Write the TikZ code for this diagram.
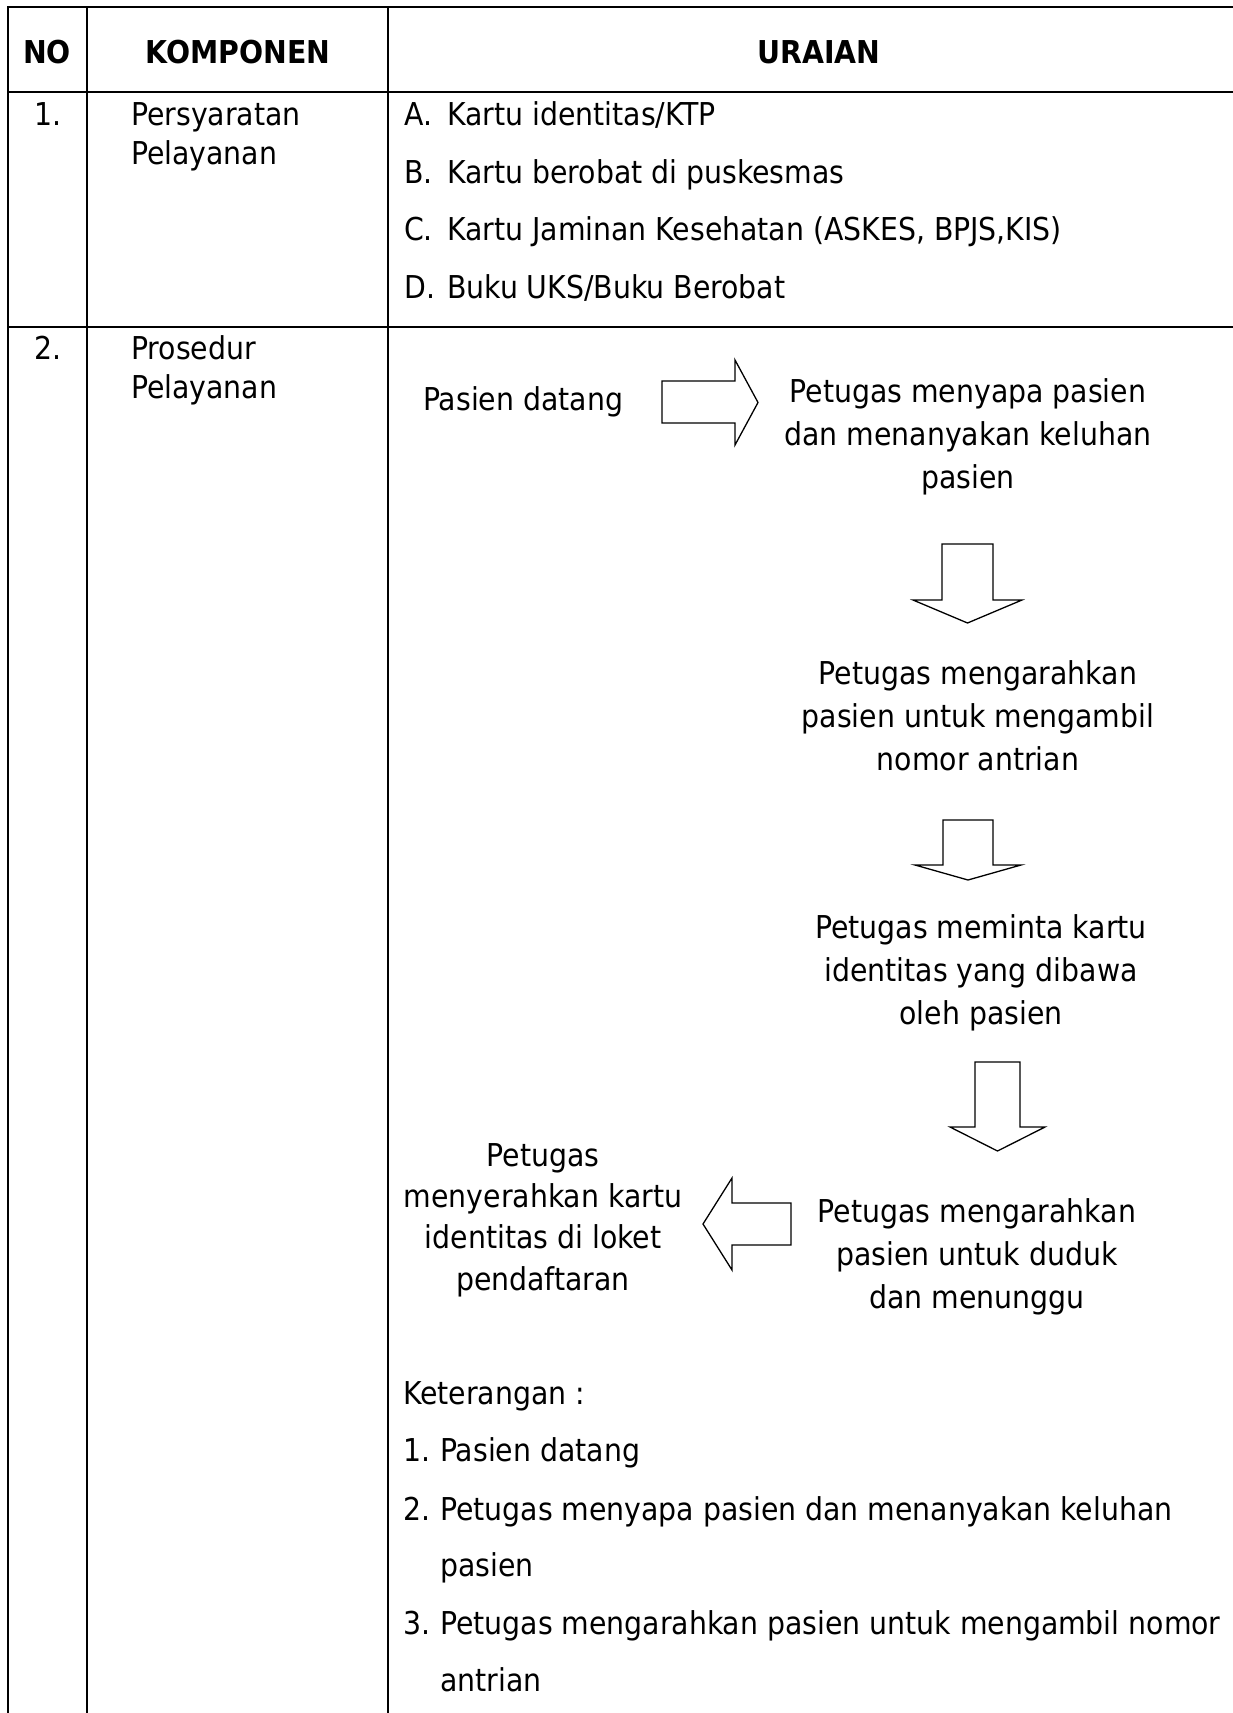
\documentclass[tikz,border=0pt]{standalone}
\usepackage{fontspec}
\setmainfont{DejaVu Sans Condensed}
\begin{document}
\begin{tikzpicture}[x=1pt,y=-1pt,
  teks/.style={font=\fontsize{31.5}{43}\selectfont,inner sep=0pt,align=center},
  judul/.style={font=\fontsize{31.5}{43}\selectfont\bfseries,inner sep=0pt},
  garis/.style={line width=2pt},
  panah/.style={draw=black,fill=white,line width=1.3pt,line join=miter}]

\useasboundingbox [fill=white](0,0) rectangle (1233,1713);

\draw[garis] (8,7) -- (1233,7);%garis atas
\draw[garis] (8,92) -- (1233,92);%bawah judul
\draw[garis] (8,327) -- (1233,327);%bawah baris 1
\draw[garis] (8,6) -- (8,1713);
\draw[garis] (87,6) -- (87,1713);
\draw[garis] (388,6) -- (388,1713);

\node[judul] (no) at (47,52){NO};
\node[judul] (komponen) at (238,52){KOMPONEN};
\node[judul] (uraian) at (819,52){URAIAN};

% baris 1
\node[teks,anchor=base] (satu) at (48,125){1.};
\node[teks,anchor=base west] (syarat) at (131,125){Persyaratan};
\node[teks,anchor=base west] (syarat2) at (131,164){Pelayanan};
\node[teks,anchor=base west] (hurufA) at (404,125){A.};
\node[teks,anchor=base west] (itemA) at (447,125){Kartu identitas/KTP};
\node[teks,anchor=base west] (hurufB) at (404,183){B.};
\node[teks,anchor=base west] (itemB) at (447,183){Kartu berobat di puskesmas};
\node[teks,anchor=base west] (hurufC) at (404,240){C.};
\node[teks,anchor=base west] (itemC) at (447,240){Kartu Jaminan Kesehatan (ASKES, BPJS,KIS)};
\node[teks,anchor=base west] (hurufD) at (404,298){D.};
\node[teks,anchor=base west] (itemD) at (447,298){Buku UKS/Buku Berobat};

% baris 2
\node[teks,anchor=base] (dua) at (48,359){2.};
\node[teks,anchor=base west] (prosedur) at (131,359){Prosedur};
\node[teks,anchor=base west] (prosedur2) at (131,398){Pelayanan};

% alur
\node[teks,anchor=base west] (datang) at (423,410){Pasien datang};
\node[teks] (sapa) at (968,437){Petugas menyapa pasien\\dan menanyakan keluhan\\pasien};
\node[teks] (antri) at (978,716){Petugas mengarahkan\\pasien untuk mengambil\\nomor antrian};
\node[teks] (minta) at (981,973){Petugas meminta kartu\\identitas yang dibawa\\oleh pasien};
\node[teks] (duduk) at (977,1257){Petugas mengarahkan\\pasien untuk duduk\\dan menunggu};
\node[teks,font=\fontsize{31.5}{41.3}\selectfont] (loket) at (543,1220){Petugas\\menyerahkan kartu\\identitas di loket\\pendaftaran};

\draw[panah] (662,381) -- (735,381) -- (735,360) -- (758,402.5) -- (735,445) -- (735,423) -- (662,423) -- cycle;%datang ke sapa
\draw[panah] (942,544) -- (993,544) -- (993,600) -- (1022,600) -- (967.5,623) -- (913,600) -- (942,600) -- cycle;%sapa ke antri
\draw[panah] (943,820) -- (993,820) -- (993,865) -- (1021,865) -- (968,880) -- (915,865) -- (943,865) -- cycle;%antri ke minta
\draw[panah] (975,1062) -- (1020,1062) -- (1020,1127) -- (1045,1127) -- (997.5,1151) -- (950,1127) -- (975,1127) -- cycle;%minta ke duduk
\draw[panah] (791,1203) -- (791,1245) -- (732,1245) -- (732,1270) -- (703,1224) -- (732,1178) -- (732,1203) -- cycle;%duduk ke loket

% keterangan
\node[teks,anchor=base west] (ket) at (403,1404){Keterangan :};
\node[teks,anchor=base west] (ket1) at (403,1461){1.};
\node[teks,anchor=base west] (ket1b) at (440,1461){Pasien datang};
\node[teks,anchor=base west] (ket2) at (403,1520){2.};
\node[teks,anchor=base west] (ket2b) at (440,1520){Petugas menyapa pasien dan menanyakan keluhan};
\node[teks,anchor=base west] (ket2c) at (440,1576){pasien};
\node[teks,anchor=base west] (ket3) at (403,1634){3.};
\node[teks,anchor=base west] (ket3b) at (440,1634){Petugas mengarahkan pasien untuk mengambil nomor};
\node[teks,anchor=base west] (ket3c) at (440,1691){antrian};

\end{tikzpicture}
\end{document}
